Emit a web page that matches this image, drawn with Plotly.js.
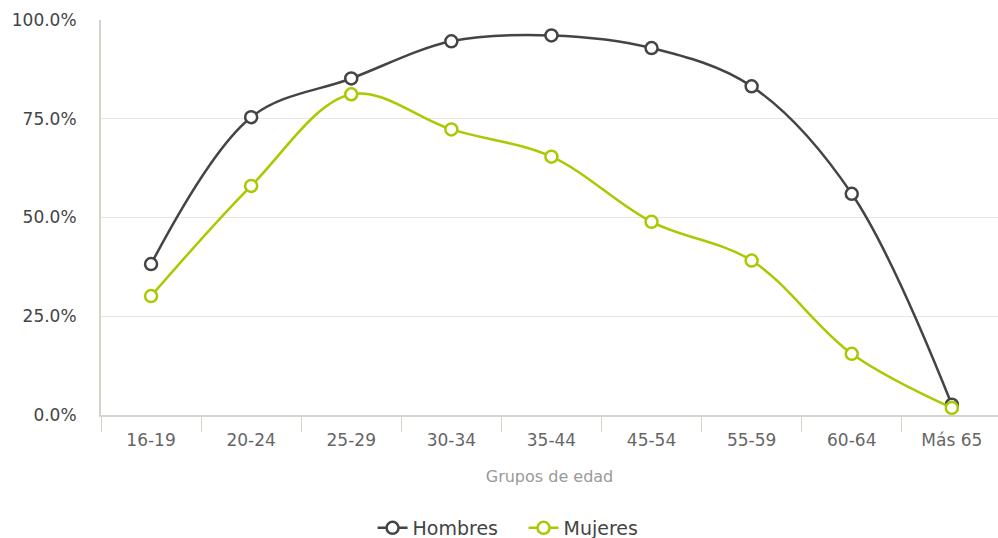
<!DOCTYPE html>
<html>
<head>
<meta charset="utf-8">
<script src="https://cdn.plot.ly/plotly-3.0.1.min.js"></script>
<style>html,body{margin:0;padding:0;background:#fff;}#chart{width:998px;height:538px;}</style>
</head>
<body>
<div id="chart"></div>
<script>
const categories = ["16-19","20-24","25-29","30-34","35-44","45-54","55-59","60-64","Más 65"];
const hombres = [0.382, 0.754, 0.852, 0.946, 0.961, 0.929, 0.832, 0.560, 0.026];
const mujeres = [0.301, 0.580, 0.812, 0.723, 0.654, 0.489, 0.391, 0.155, 0.018];
const yTicks = [0, 0.25, 0.5, 0.75, 1];

function series(name, y, color) {
  return {
    type: 'scatter', mode: 'lines+markers', name: name,
    x: categories, y: y,
    line: {color: color, width: 2.5, shape: 'spline', smoothing: 1},
    marker: {size: 12, color: '#ffffff', line: {color: color, width: 2.5}},
    cliponaxis: false
  };
}

const data = [
  series('Hombres', hombres, '#444444'),
  series('Mujeres', mujeres, '#a9c900')
];

const layout = {
  width: 998, height: 538,
  margin: {l: 101, r: 0, t: 20, b: 123, autoexpand: false},
  paper_bgcolor: '#ffffff', plot_bgcolor: '#ffffff',
  font: {family: 'DejaVu Sans', size: 16, color: '#444'},
  showlegend: true,
  legend: {orientation: 'h', x: 0.5246, xanchor: 'center', xref: 'container',
           y: 0.0186, yanchor: 'middle', yref: 'container',
           font: {size: 19, color: '#444'}, itemwidth: 30, entrywidth: 106},
  xaxis: {
    type: 'category', tickson: 'boundaries', ticks: 'outside', ticklen: 15, tickcolor: '#d4d4cb',
    showline: true, linecolor: '#d4d4cb', linewidth: 2, showgrid: false, zeroline: false,
    tickfont: {size: 17, color: '#666'}, ticklabelstandoff: 9,
    title: {text: 'Grupos de edad', font: {size: 16, color: '#999'}, standoff: 21},
    range: [-0.5, 8.461], automargin: false
  },
  yaxis: {
    range: [0, 1], tickvals: yTicks, tickformat: '.1%',
    showgrid: true, gridcolor: '#e6e6e6', gridwidth: 1, zeroline: false,
    showline: true, linecolor: '#d4d4cb', linewidth: 2,
    tickfont: {size: 17, color: '#444'}, ticks: '', ticklabelstandoff: 19, automargin: false
  }
};

Plotly.newPlot('chart', data, layout, {displayModeBar: false, staticPlot: true});
</script>
</body>
</html>
